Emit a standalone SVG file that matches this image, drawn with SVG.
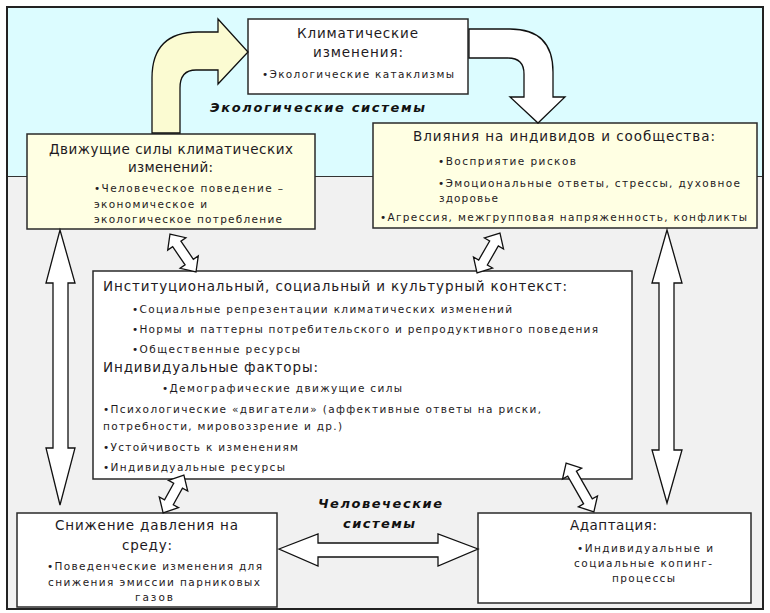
<svg xmlns="http://www.w3.org/2000/svg" width="770" height="613" viewBox="0 0 770 613">
<style>
.box{stroke:#2a2a2a;stroke-width:1.5}
.w{fill:#ffffff}
.y{fill:#ffffe3}
.arr{fill:#ffffff;stroke:#111;stroke-width:1.3;stroke-linejoin:miter}
.t{font-family:"DejaVu Sans","Liberation Sans",sans-serif;fill:#1e1a22}
.h{font-size:13.5px}
.b{font-size:10.5px}
.bi{font-family:"DejaVu Sans","Liberation Sans",sans-serif;font-size:13px;font-weight:bold;font-style:italic;fill:#111}
</style>
<rect x="0" y="0" width="770" height="613" fill="#ffffff"/>
<g id="background">
<rect x="7" y="7" width="756" height="170" fill="#dcfcff"/>
<rect x="7" y="177" width="756" height="432" fill="#f1f1f1"/>
<line x1="7" y1="176.5" x2="763" y2="176.5" stroke="#333" stroke-width="1.2"/>
<rect x="7" y="7" width="756" height="602" fill="none" stroke="#222" stroke-width="2"/>
</g>
<g id="label-eco">
<text class="bi" x="210" y="112" textLength="215" lengthAdjust="spacing">Экологические системы</text>
</g>
<g id="label-human">
<text class="bi" x="318" y="508" textLength="124" lengthAdjust="spacing">Человеческие</text>
<text class="bi" x="343" y="528" textLength="72" lengthAdjust="spacing">системы</text>
</g>
<g id="node-climate">
<rect class="box w" x="248" y="19" width="220" height="75"/>
<text class="t h" x="297" y="38" textLength="121" lengthAdjust="spacing">Климатические</text>
<text class="t h" x="313" y="57" textLength="90" lengthAdjust="spacing">изменения:</text>
<text class="t b" x="262" y="78" textLength="192" lengthAdjust="spacing">•Экологические катаклизмы</text>
</g>
<g id="node-drivers">
<rect class="box y" x="27" y="134" width="288" height="95"/>
<text class="t h" x="49" y="154" textLength="244" lengthAdjust="spacing">Движущие силы климатических</text>
<text class="t h" x="128" y="172" textLength="85" lengthAdjust="spacing">изменений:</text>
<text class="t b" x="94" y="192" textLength="189" lengthAdjust="spacing">•Человеческое поведение –</text>
<text class="t b" x="94" y="208" textLength="113" lengthAdjust="spacing">экономическое и</text>
<text class="t b" x="94" y="223" textLength="188" lengthAdjust="spacing">экологическое потребление</text>
</g>
<g id="node-impacts">
<rect class="box y" x="373" y="123" width="384" height="105"/>
<text class="t h" x="413" y="141" textLength="302" lengthAdjust="spacing">Влияния на индивидов и сообщества:</text>
<text class="t b" x="438" y="165" textLength="138" lengthAdjust="spacing">•Восприятие рисков</text>
<text class="t b" x="438" y="187" textLength="302" lengthAdjust="spacing">•Эмоциональные ответы, стрессы, духовное</text>
<text class="t b" x="439" y="202" textLength="59" lengthAdjust="spacing">здоровье</text>
<text class="t b" x="380" y="221" textLength="367" lengthAdjust="spacing">•Агрессия, межгрупповая напряженность, конфликты</text>
</g>
<g id="node-context">
<rect class="box w" x="93" y="271" width="539" height="208"/>
<text class="t h" x="103" y="291" textLength="464" lengthAdjust="spacing">Институциональный, социальный и культурный контекст:</text>
<text class="t b" x="132" y="313" textLength="380" lengthAdjust="spacing">•Социальные репрезентации климатических изменений</text>
<text class="t b" x="132" y="333" textLength="466" lengthAdjust="spacing">•Нормы и паттерны потребительского и репродуктивного поведения</text>
<text class="t b" x="132" y="353" textLength="168" lengthAdjust="spacing">•Общественные ресурсы</text>
<text class="t h" x="103" y="372" textLength="215" lengthAdjust="spacing">Индивидуальные факторы:</text>
<text class="t b" x="162" y="392" textLength="240" lengthAdjust="spacing">•Демографические движущие силы</text>
<text class="t b" x="103" y="413" textLength="438" lengthAdjust="spacing">•Психологические «двигатели» (аффективные ответы на риски,</text>
<text class="t b" x="103" y="430" textLength="239" lengthAdjust="spacing">потребности, мировоззрение и др.)</text>
<text class="t b" x="103" y="451" textLength="195" lengthAdjust="spacing">•Устойчивость к изменениям</text>
<text class="t b" x="103" y="471" textLength="182" lengthAdjust="spacing">•Индивидуальные ресурсы</text>
</g>
<g id="node-mitigation">
<rect class="box w" x="17" y="513" width="260" height="94"/>
<text class="t h" x="55" y="530" textLength="183" lengthAdjust="spacing">Снижение давления на</text>
<text class="t h" x="122" y="550" textLength="50" lengthAdjust="spacing">среду:</text>
<text class="t b" x="47" y="570" textLength="215" lengthAdjust="spacing">•Поведенческие изменения для</text>
<text class="t b" x="48" y="586" textLength="212" lengthAdjust="spacing">снижения эмиссии парниковых</text>
<text class="t b" x="135" y="601" textLength="38" lengthAdjust="spacing">газов</text>
</g>
<g id="node-adaptation">
<rect class="box w" x="478" y="513" width="273" height="90"/>
<text class="t h" x="570" y="530" textLength="87" lengthAdjust="spacing">Адаптация:</text>
<text class="t b" x="577" y="552" textLength="136" lengthAdjust="spacing">•Индивидуальные и</text>
<text class="t b" x="574" y="567" textLength="138" lengthAdjust="spacing">социальные копинг-</text>
<text class="t b" x="612" y="582" textLength="63" lengthAdjust="spacing">процессы</text>
</g>
<g id="connectors">
<path class="arr" style="fill:#fbfbd2" d="M 152 133 L 152 78 Q 152 32 198 32 L 218 32 L 218 19 L 248 52 L 218 84 L 218 70 L 196 70 Q 180 70 180 88 L 180 133 Z"/>
<path class="arr" d="M 469 29 L 510 29 Q 553 29 553 72 L 553 97 L 565 97 L 538 123 L 510 97 L 524 97 L 524 74 Q 524 58 508 58 L 469 58 Z"/>
<path class="arr" d="M 60 230 L 75 283 L 68 283 L 68 448 L 75 448 L 60 505 L 46 448 L 53 448 L 53 283 L 46 283 Z"/>
<path class="arr" d="M 667 230 L 682 283 L 674 283 L 674 450 L 682 450 L 667 503 L 652 450 L 659 450 L 659 283 L 652 283 Z"/>
<path class="arr" d="M 279 549 L 318 534 L 318 543 L 438 543 L 438 534 L 478 549 L 438 566 L 438 557 L 318 557 L 318 566 Z"/>
<path class="arr" transform="translate(183,253) rotate(55.6)" d="M -23 0 L -11 -11 L -11 -5 L 11 -5 L 11 -11 L 23 0 L 11 11 L 11 5 L -11 5 L -11 11 Z"/>
<path class="arr" transform="translate(488.5,253) rotate(119.9)" d="M -23 0 L -11 -11 L -11 -5 L 11 -5 L 11 -11 L 23 0 L 11 11 L 11 5 L -11 5 L -11 11 Z"/>
<path class="arr" transform="translate(173.5,494) rotate(118.9)" d="M -21.5 0 L -9.5 -11 L -9.5 -5 L 9.5 -5 L 9.5 -11 L 21.5 0 L 9.5 11 L 9.5 5 L -9.5 5 L -9.5 11 Z"/>
<path class="arr" transform="translate(580,487.5) rotate(60.3)" d="M -28 0 L -16 -11 L -16 -5 L 16 -5 L 16 -11 L 28 0 L 16 11 L 16 5 L -16 5 L -16 11 Z"/>
</g>
</svg>
